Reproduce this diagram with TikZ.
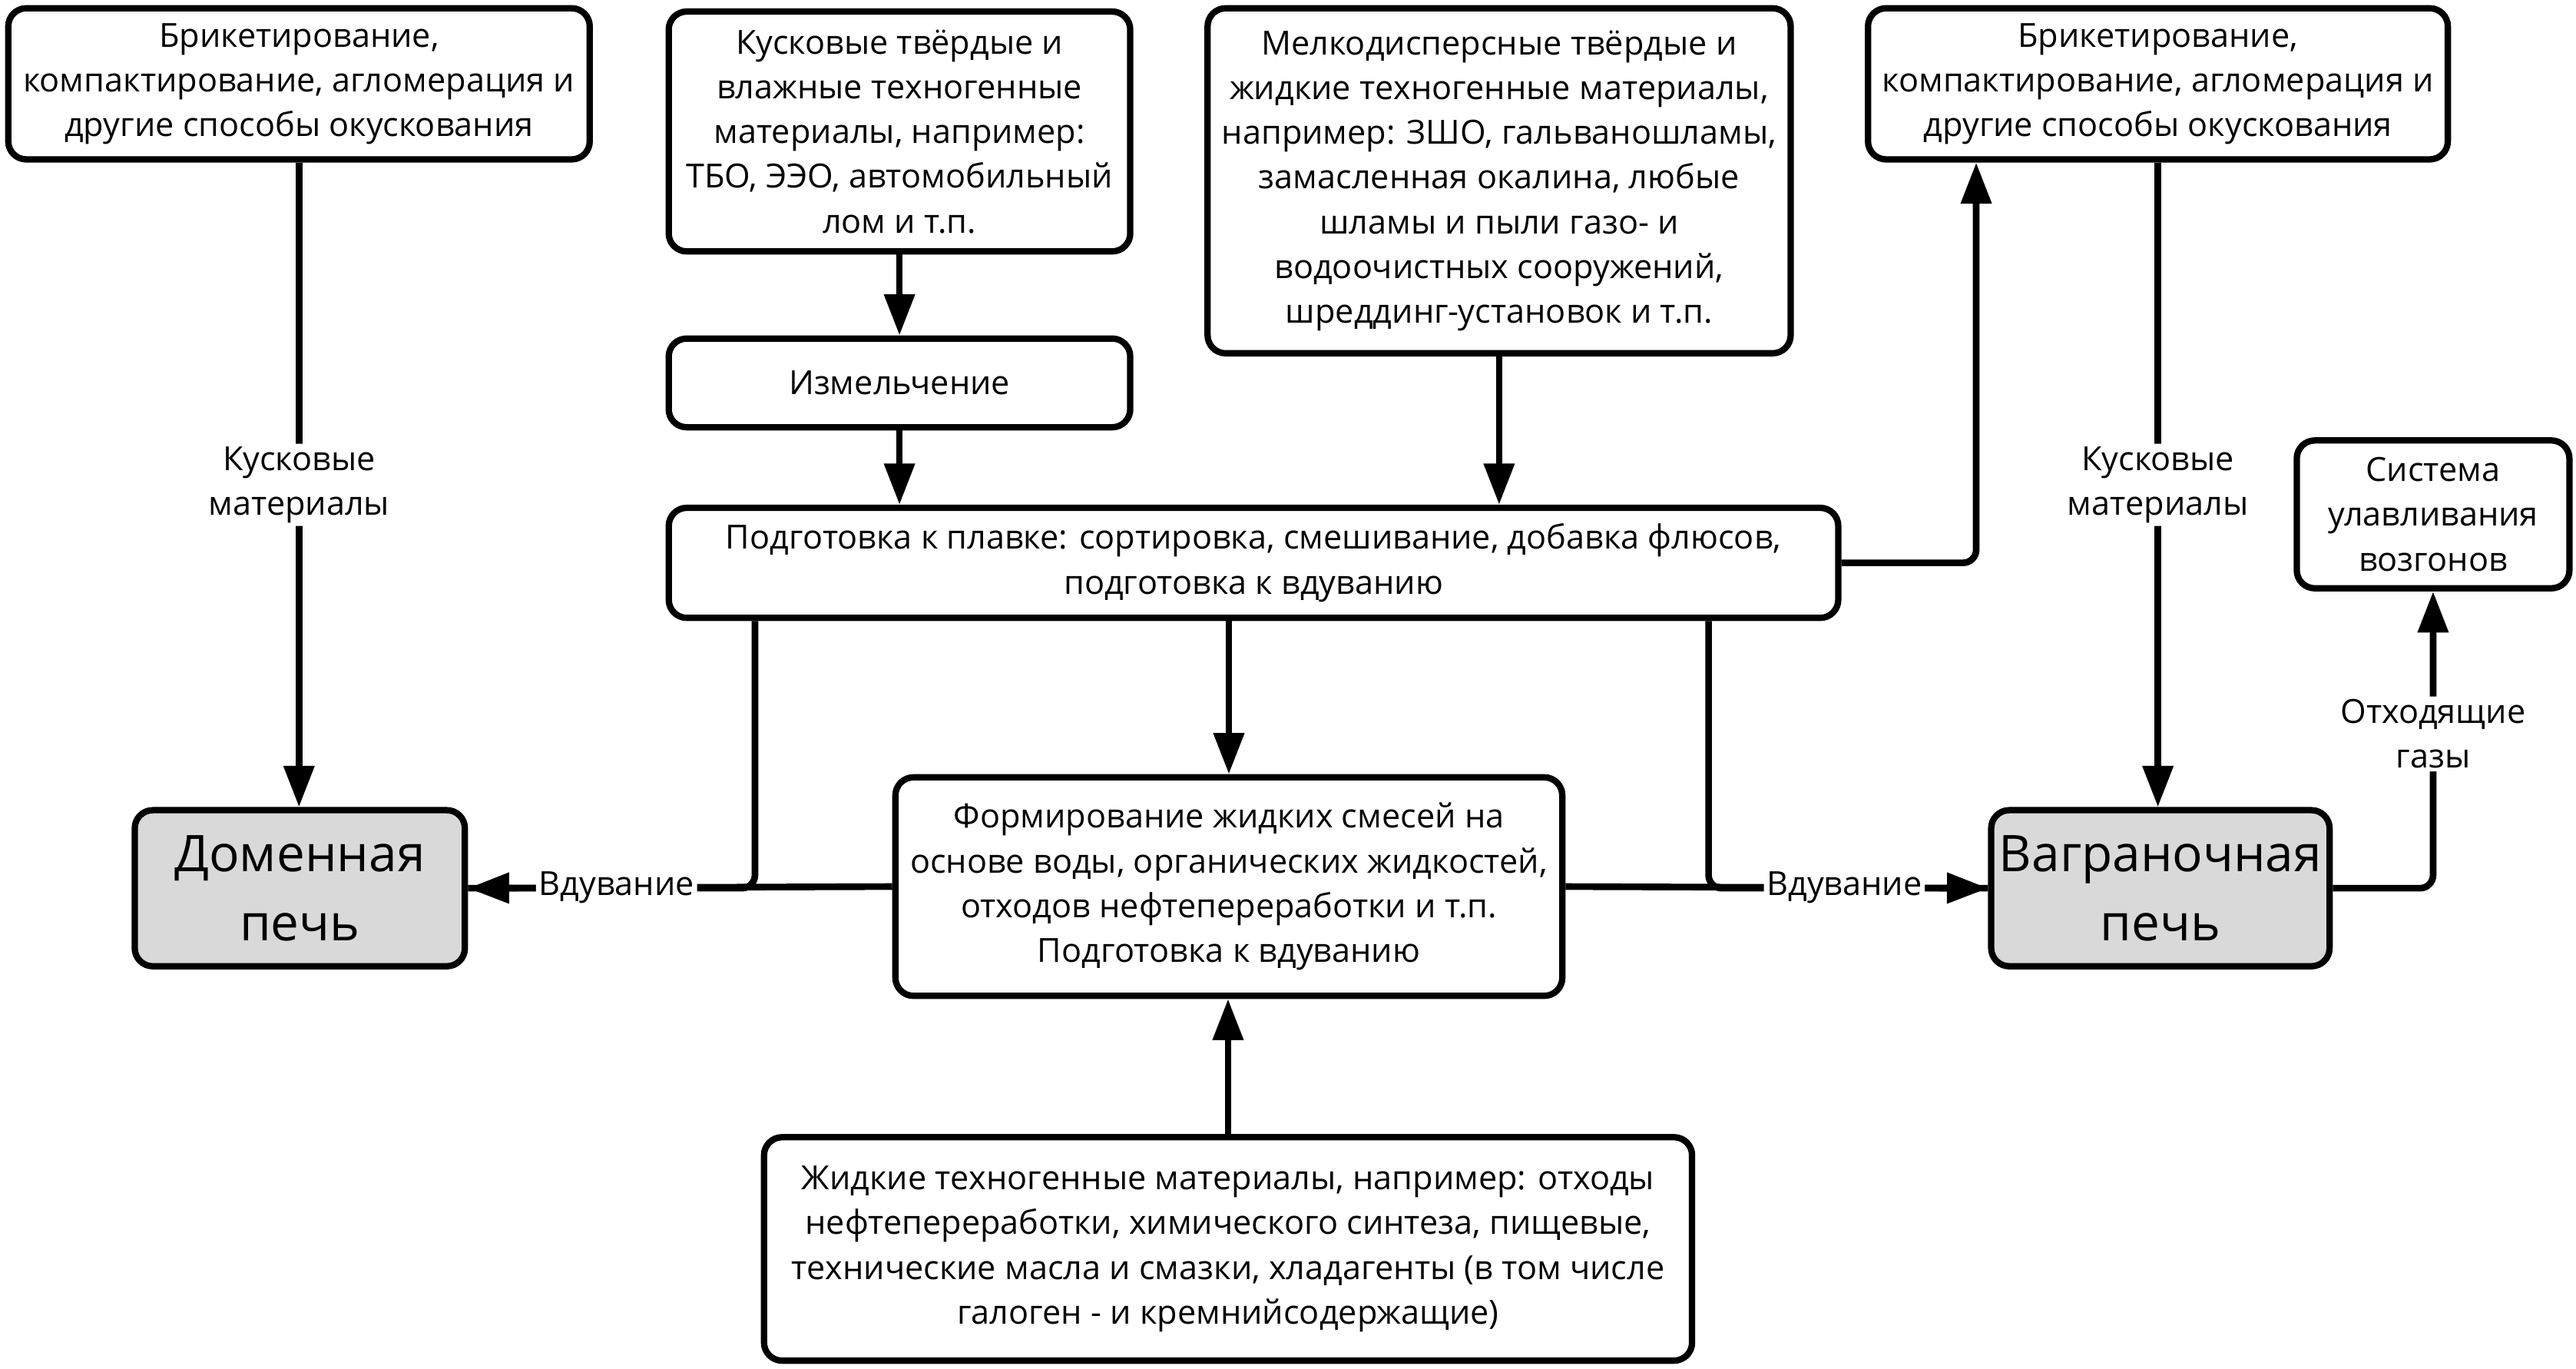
\documentclass[tikz,border=0pt]{standalone}
\usepackage{fontspec}
\setmainfont{Open Sans}
\usetikzlibrary{arrows.meta,calc}
\definecolor{furngray}{HTML}{D9D9D9}
\begin{document}
\begin{tikzpicture}[x=0.02cm,y=-0.02cm,
 box/.style={draw, line width=2.2pt, rounded corners=0.22cm, align=center, inner sep=0pt, font=\fontsize{11.5}{15.5}\selectfont},
 furnace/.style={box, fill=furngray, font=\fontsize{17.5}{24}\selectfont},
 conn/.style={line width=2.3pt, rounded corners=0.16cm},
 arr/.style={conn, -{Triangle[length=0.5cm,width=0.36cm]}},
 lbl/.style={fill=white, inner sep=1pt, align=center, font=\fontsize{11.5}{15.5}\selectfont}]
\useasboundingbox (0,0) rectangle (1568,833);

\node[box, minimum width=7.08cm, minimum height=1.84cm] (A) at (182,51)
 {Брикетирование,\\компактирование, агломерация и\\другие способы окускования};
\node[box, minimum width=5.62cm, minimum height=2.92cm] (B) at (547.5,80)
 {Кусковые твёрдые и\\влажные техногенные\\материалы, например:\\ТБО, ЭЭО, автомобильный\\лом и т.п.};
\node[box, minimum width=7.10cm, minimum height=4.20cm] (C) at (912.5,110)
 {Мелкодисперсные твёрдые и\\жидкие техногенные материалы,\\например: ЗШО, гальваношламы,\\замасленная окалина, любые\\шламы и пыли газо- и\\водоочистных сооружений,\\шреддинг-установок и т.п.};
\node[box, minimum width=7.06cm, minimum height=1.84cm] (D) at (1313.5,51)
 {Брикетирование,\\компактирование, агломерация и\\другие способы окускования};
\node[box, minimum width=5.62cm, minimum height=1.08cm] (E) at (547.5,233)
 {Измельчение};
\node[box, minimum width=14.24cm, minimum height=1.34cm] (F) at (763,342.5)
 {Подготовка к плавке: сортировка, смешивание, добавка флюсов,\\подготовка к вдуванию};
\node[box, minimum width=8.12cm, minimum height=2.66cm] (G) at (748,539.5)
 {Формирование жидких смесей на\\основе воды, органических жидкостей,\\отходов нефтепереработки и т.п.\\Подготовка к вдуванию};
\node[furnace, minimum width=4.02cm, minimum height=1.90cm] (H) at (182.5,540.5)
 {Доменная\\печь};
\node[furnace, minimum width=4.12cm, minimum height=1.90cm] (I) at (1315,540.5)
 {Ваграночная\\печь};
\node[box, minimum width=3.32cm, minimum height=1.80cm] (J) at (1481,313)
 {Система\\улавливания\\возгонов};
\node[box, minimum width=11.30cm, minimum height=2.72cm] (K) at (747.5,760)
 {Жидкие техногенные материалы, например: отходы\\нефтепереработки, химического синтеза, пищевые,\\технические масла и смазки, хладагенты (в том числе\\галоген - и кремнийсодержащие)};

% top chains
\draw[arr] (A.south) -- node[lbl] {Кусковые\\материалы} (A.south |- H.north);
\draw[arr] (D.south) -- node[lbl] {Кусковые\\материалы} (D.south |- I.north);
\draw[arr] (B.south) -- (E.north);
\draw[arr] (E.south) -- (E.south |- F.north);
\draw[arr] (C.south) -- (C.south |- F.north);
\draw[arr] (F.east) -| ($(D.south west)!0.19!(D.south east)$);
\draw[arr] (G.north |- F.south) -- (G.north);
\draw[arr] (K.north) -- (K.north |- G.south);

% blowing branches
\draw[conn] ($(F.south west)!0.076!(F.south east)$) |- (H.east);
\draw[arr] (G.west) -- node[lbl, pos=0.65] {Вдувание} (H.east);
\draw[conn] ($(F.south west)!0.887!(F.south east)$) |- (I.west);
\draw[arr] (G.east) -- node[lbl, pos=0.66] {Вдувание} (I.west);

% off-gases
\draw[arr] (I.east) -| node[lbl, pos=0.76] {Отходящие\\газы} (J.south);
\end{tikzpicture}
\end{document}
